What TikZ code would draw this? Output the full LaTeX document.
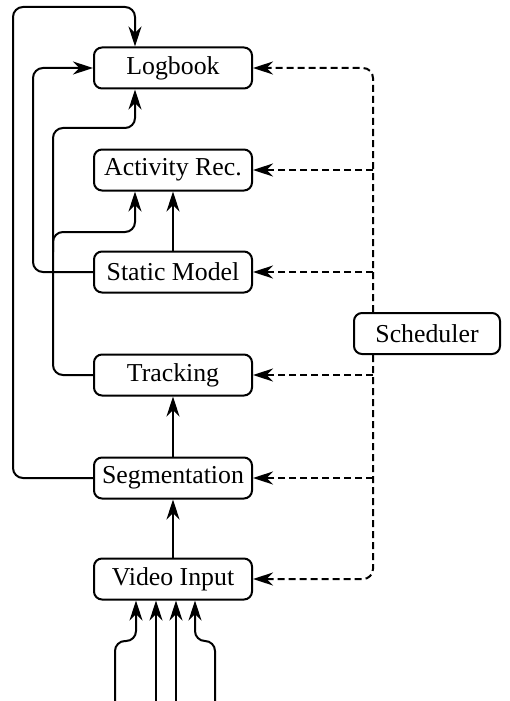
\documentclass[tikz,border=0pt]{standalone}
\usepackage{fontspec}
\setmainfont{Liberation Serif}
\usetikzlibrary{arrows.meta}

\begin{document}
\begin{tikzpicture}[x=0.5pt, y=-0.5pt,
  module/.style={draw, rounded corners=4pt, line width=1pt, minimum width=79pt, minimum height=20.5pt, inner sep=0pt, font=\fontsize{12.9}{15}\selectfont},
  flow/.style={line width=1pt, rounded corners=5pt, -{Stealth[length=10pt, width=6.5pt]}},
  ctrl/.style={flow, dash pattern=on 3.5pt off 2pt}]
  \useasboundingbox (0,0) rectangle (509,701);
  % processing chain
  \node[module] (logbook)  at (173,68)  {Logbook};
  \node[module] (activity) at (173,170) {Activity Rec.};
  \node[module] (static)   at (173,272) {Static Model};
  \node[module] (tracking) at (173,375) {Tracking};
  \node[module] (segment)  at (173,478) {Segmentation};
  \node[module] (video)    at (173,579) {Video Input};
  \node[module, minimum width=73pt] (sched) at (427,333.5) {Scheduler};
  \coordinate (bus) at (373,0);
  \coordinate (fork) at (53,232);
  % scheduler control
  \draw[ctrl] (sched.north -| bus) |- (logbook.east);
  \draw[ctrl] (sched.south -| bus) |- (video.east);
  \foreach \m in {activity, static, tracking, segment}
    \draw[ctrl] (bus |- \m.east) -- (\m.east);
  % data flow
  \draw[flow] (video.north) -- (segment.south);
  \draw[flow] (segment.north) -- (tracking.south);
  \draw[flow] (static.north) -- (activity.south);
  \draw[flow] (segment.west) -| (13,7) -| ([xshift=-19pt]logbook.north);
  \draw[flow] (static.west) -| (33,68) -- (logbook.west);
  \draw[flow] (tracking.west) -| (53,128) -| ([xshift=-19pt]logbook.south);
  \draw[flow] ([yshift=-10pt]fork) -- (fork) -| ([xshift=-19pt]activity.south);
  % camera inputs
  \foreach \sx/\ex in {115/136, 215/195}
    \draw[flow] (\sx,701) |- (\ex,641) -- (\ex,641 |- video.south);
  \foreach \ex in {156, 176}
    \draw[flow] (\ex,701) -- (\ex,701 |- video.south);
\end{tikzpicture}
\end{document}
